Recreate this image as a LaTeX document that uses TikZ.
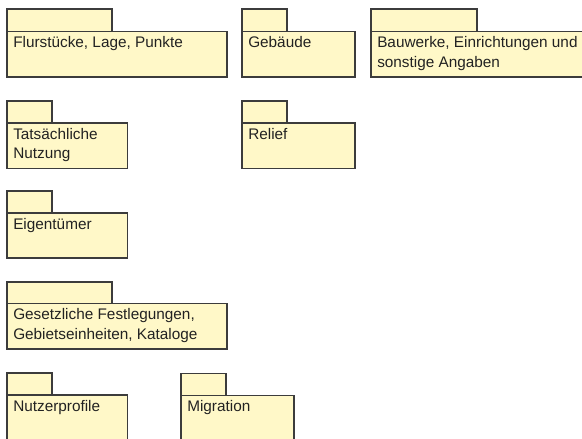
\documentclass[tikz,border=0pt]{standalone}
\usepackage{fontspec}
\setmainfont{Liberation Sans}
\definecolor{pkgfill}{HTML}{FFF8C8}
\definecolor{pkgline}{HTML}{3C3C3C}
\definecolor{pkgtext}{HTML}{222222}
\tikzset{
  pkgbox/.style={draw=pkgline,fill=pkgfill,line width=0.8pt},
  pkglabel/.style={anchor=north west,inner sep=0pt,align=left,text=pkgtext,
    font=\fontsize{11.5}{14.6}\selectfont}
}
\begin{document}
\begin{tikzpicture}[x=0.75pt,y=-0.75pt]
\useasboundingbox (0,0) rectangle (582,439);
\clip (0,0) rectangle (582,439);
% first row
\draw[pkgbox] (7,9) rectangle (112,31.5);
\draw[pkgbox] (7,31.5) rectangle (227,77);
\node[pkglabel] (flur) at (13,36.5) {Flurstücke, Lage, Punkte};
\draw[pkgbox] (242,9) rectangle (287,31.5);
\draw[pkgbox] (242,31.5) rectangle (355,77);
\node[pkglabel] (geb) at (248,36.5) {Gebäude};
\draw[pkgbox] (371,9) rectangle (477,31.5);
\draw[pkgbox] (371,31.5) rectangle (592,77);
\node[pkglabel] (bau) at (377,36.5) {Bauwerke, Einrichtungen und\\sonstige Angaben};
% second row
\draw[pkgbox] (7,101) rectangle (52,123);
\draw[pkgbox] (7,123) rectangle (127.5,168.5);
\node[pkglabel] (nutz) at (13,128) {Tatsächliche\\Nutzung};
\draw[pkgbox] (242,101) rectangle (287,123);
\draw[pkgbox] (242,123) rectangle (355,168.5);
\node[pkglabel] (relief) at (248,128) {Relief};
% third row
\draw[pkgbox] (7,191) rectangle (52,213);
\draw[pkgbox] (7,213) rectangle (127.5,258);
\node[pkglabel] (eigen) at (13,218) {Eigentümer};
% fourth row
\draw[pkgbox] (7,282) rectangle (112,303.5);
\draw[pkgbox] (7,303.5) rectangle (227,349);
\node[pkglabel] (gesetz) at (13,308.5) {Gesetzliche Festlegungen,\\Gebietseinheiten, Kataloge};
% fifth row
\draw[pkgbox] (7,373) rectangle (52,395);
\draw[pkgbox] (7,395) rectangle (127.5,450);
\node[pkglabel] (profile) at (13,400) {Nutzerprofile};
\draw[pkgbox] (181,373.5) rectangle (226,395.5);
\draw[pkgbox] (181,395.5) rectangle (294,450);
\node[pkglabel] (migr) at (187,400.5) {Migration};
\end{tikzpicture}
\end{document}
